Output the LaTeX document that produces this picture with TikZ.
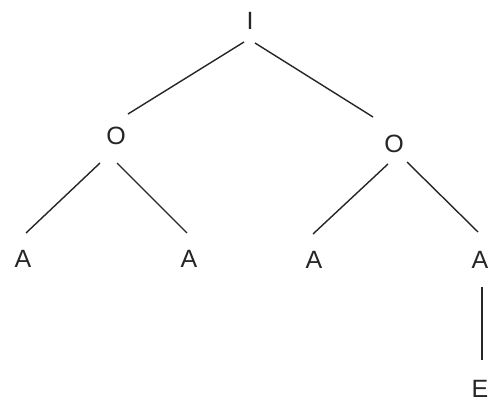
\documentclass[tikz,border=0pt]{standalone}
\usepackage{fontspec}
\setmainfont{Liberation Sans}
\begin{document}
\begin{tikzpicture}[x=1pt,y=-1pt,
  lbl/.style={inner sep=0pt,font=\fontsize{25}{25}\selectfont,text=black!85},
  edge/.style={line width=1.4pt,draw=black!85}]
\useasboundingbox[fill=white] (0,0) rectangle (489,403);
\node[lbl] (I) at (250,21) {I};
\node[lbl] (Ol) at (116,136) {O};
\node[lbl] (Or) at (394,144) {O};
\node[lbl] (A1) at (23,259) {A};
\node[lbl] (A2) at (189,259) {A};
\node[lbl] (A3) at (314,260) {A};
\node[lbl] (A4) at (480,260) {A};
\node[lbl] (E) at (480,389) {E};
\draw[edge] ([shift={(-6,21)}]I.center) -- ([shift={(12,-22)}]Ol.center);
\draw[edge] ([shift={(5,22)}]I.center) -- ([shift={(-21,-27)}]Or.center);
\draw[edge] ([shift={(-16,27)}]Ol.center) -- ([shift={(3,-26)}]A1.center);
\draw[edge] ([shift={(1,27)}]Ol.center) -- ([shift={(-2,-26)}]A2.center);
\draw[edge] ([shift={(-6,20)}]Or.center) -- ([shift={(-1,-26)}]A3.center);
\draw[edge] ([shift={(13,18)}]Or.center) -- ([shift={(-2,-28)}]A4.center);
\draw[edge] ([shift={(2,27)}]A4.center) -- ([shift={(2,-29)}]E.center);
\end{tikzpicture}
\end{document}
